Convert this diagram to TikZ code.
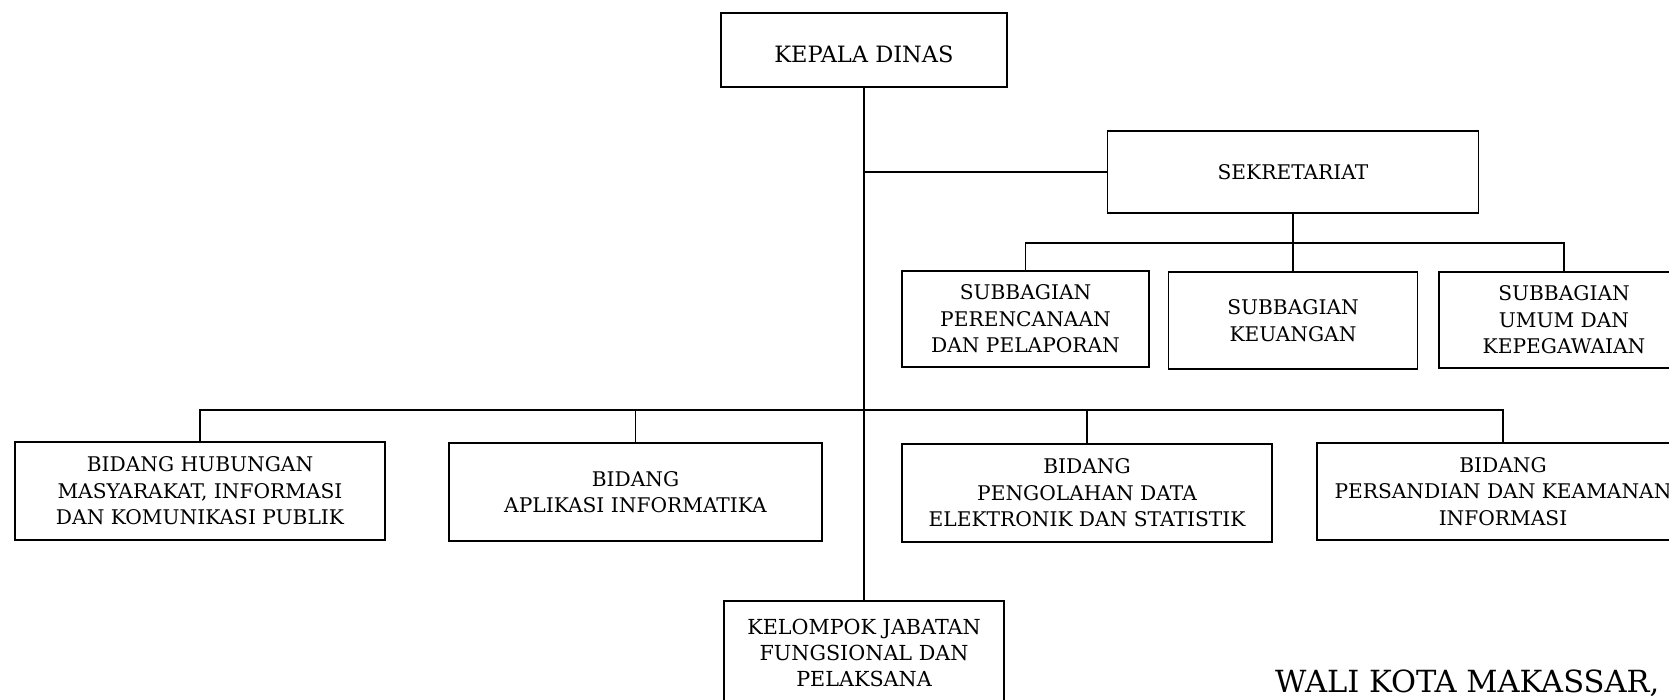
\documentclass[tikz,border=0pt]{standalone}
\usepackage{fontspec}
\setmainfont{DejaVu Serif}
\begin{document}
\begin{tikzpicture}[x=1pt,y=-1pt,
  box/.style={draw, line width=1.6pt, rectangle, inner sep=0pt, align=center,
    font=\fontsize{20.2}{26.5}\selectfont},
  conn/.style={line width=1.6pt}]
\useasboundingbox (0,0) rectangle (1669,699);
\clip (0,0) rectangle (1669,699);
\node[box, minimum width=286, minimum height=74, text height=25pt, text depth=0pt, font=\fontsize{22.5}{27}\selectfont] (kd) at (864,50) {KEPALA DINAS};
\node[box, minimum width=371, minimum height=82] (sek) at (1293,172) {SEKRETARIAT};
\node[box, minimum width=247, minimum height=96] (sp) at (1025.5,319) {SUBBAGIAN\\PERENCANAAN\\DAN PELAPORAN};
\node[box, minimum width=249, minimum height=97] (sk) at (1293,320.5) {SUBBAGIAN\\KEUANGAN};
\node[box, minimum width=250, minimum height=96] (su) at (1564,320) {SUBBAGIAN\\UMUM DAN\\KEPEGAWAIAN};
\node[box, minimum width=370, minimum height=98] (b1) at (200,491) {BIDANG HUBUNGAN\\MASYARAKAT, INFORMASI\\DAN KOMUNIKASI PUBLIK};
\node[box, minimum width=373, minimum height=98] (b2) at (635.5,492) {BIDANG\\APLIKASI INFORMATIKA};
\node[box, minimum width=370, minimum height=98] (b3) at (1087,493) {BIDANG\\PENGOLAHAN DATA\\ELEKTRONIK DAN STATISTIK};
\node[box, minimum width=372, minimum height=97] (b4) at (1503,491.5) {BIDANG\\PERSANDIAN DAN KEAMANAN\\INFORMASI};
\node[box, minimum width=280, minimum height=104, font=\fontsize{20.7}{26}\selectfont] (kel) at (864,653) {KELOMPOK JABATAN\\FUNGSIONAL DAN\\PELAKSANA};
\node[anchor=base west, inner sep=0pt, font=\fontsize{30.5}{36}\selectfont] (wali) at (1275,692) {WALI KOTA MAKASSAR,};
\coordinate (sl) at (1293,243);
\coordinate (ml) at (864,410);
\draw[conn] (kd.south) -- (kd.south |- kel.north);
\draw[conn] (kd.south |- sek.west) -- (sek.west);
\draw[conn] (sek.south) -- (sl);
\draw[conn] (sp.north) -- (sp.north |- sl) -- (su.north |- sl) -- (su.north);
\draw[conn] (sk.north) -- (sk.north |- sl);
\draw[conn] (b1.north) -- (b1.north |- ml) -- (b4.north |- ml) -- (b4.north);
\draw[conn] (b2.north) -- (b2.north |- ml);
\draw[conn] (b3.north) -- (b3.north |- ml);
\end{tikzpicture}
\end{document}
